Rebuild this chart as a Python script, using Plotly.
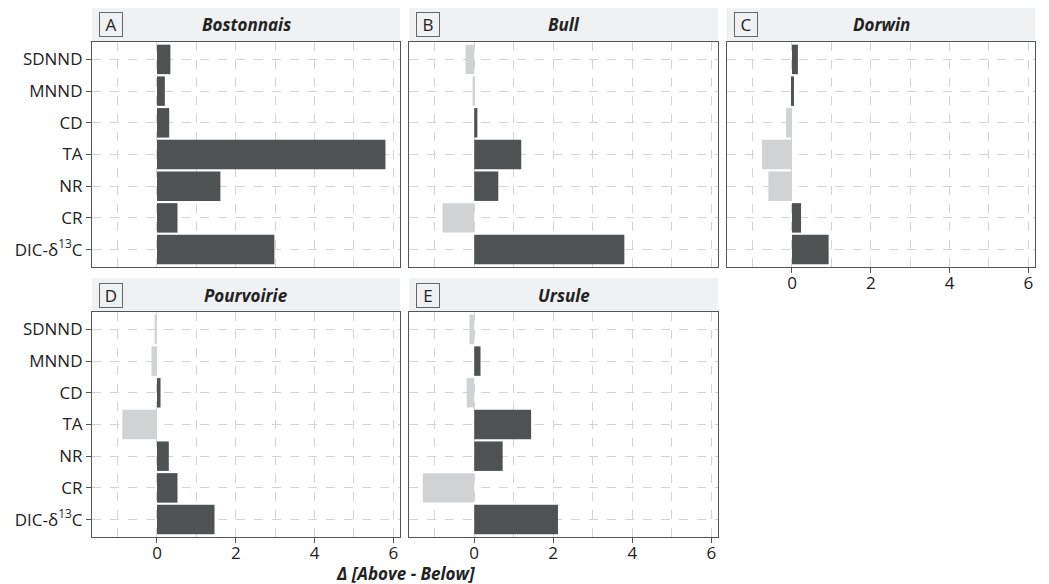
import plotly.graph_objects as go

categories = ["SDNND", "MNND", "CD", "TA", "NR", "CR", "DIC-δ<sup>13</sup>C"]
lakes = ["Bostonnais", "Bull", "Dorwin", "Pourvoirie", "Ursule"]
letters = ["A", "B", "C", "D", "E"]

bostonnais = [0.34, 0.20, 0.31, 5.80, 1.61, 0.52, 2.98]
bull = [-0.22, -0.04, 0.08, 1.19, 0.61, -0.80, 3.80]
dorwin = [0.15, 0.05, -0.15, -0.76, -0.60, 0.23, 0.93]
pourvoirie = [-0.06, -0.14, 0.09, -0.88, 0.30, 0.52, 1.46]
ursule = [-0.12, 0.16, -0.19, 1.44, 0.72, -1.30, 2.12]
series = [bostonnais, bull, dorwin, pourvoirie, ursule]

x_ticks = [0, 2, 4, 6]
x_title = "Δ [Above - Below]"

DARK = "#4e5253"
LIGHT = "#d1d2d4"
GRID = "#d4d4d4"
BORDER = "#555555"
STRIP = "#f0f1f3"
FONT = "Open Sans"
FS = 17

W, H = 1049, 584
ml, mr, mt, mb = 92, 14, 42, 47
pw = W - ml - mr
ph = H - mt - mb

cols_px = [(92, 400), (409, 718), (727, 1035)]
rows_px = [(42, 267), (312, 537)]

def xd(a, b):
    return [(a - ml) / pw, (b - ml) / pw]

def yd(top, bot):
    return [(H - mb - bot) / ph, (H - mb - top) / ph]

fig = go.Figure()
positions = [(0, 0), (0, 1), (0, 2), (1, 0), (1, 1)]
for i, (lake, vals) in enumerate(zip(lakes, series)):
    r, c = positions[i]
    ax = "" if i == 0 else str(i + 1)
    fig.add_trace(go.Bar(
        x=vals, y=categories, orientation="h",
        marker=dict(color=[DARK if v >= 0 else LIGHT for v in vals], line=dict(width=0)),
        width=0.93, xaxis="x" + ax, yaxis="y" + ax, showlegend=False,
    ))
    show_x = (r == 1) or (c == 2)
    show_y = (c == 0)
    fig.layout["xaxis" + ax] = dict(
        domain=xd(*cols_px[c]), anchor="y" + ax, range=[-1.65, 6.17],
        tickvals=x_ticks, showticklabels=show_x, ticks="outside" if show_x else "",
        ticklen=5, tickcolor=BORDER, ticklabelstandoff=-5,
        showgrid=True, gridcolor=GRID, griddash="dash", gridwidth=1,
        minor=dict(dtick=1, tick0=0, showgrid=True, gridcolor=GRID, griddash="dash", gridwidth=1),
        zeroline=False, showline=True, linecolor=BORDER, linewidth=1.2, mirror=True,
        tickfont=dict(family=FONT, size=FS, color="#222"),
    )
    fig.layout["yaxis" + ax] = dict(
        domain=yd(*rows_px[r]), anchor="x" + ax,
        categoryorder="array", categoryarray=categories[::-1],
        range=[-0.55, 6.55],
        showticklabels=show_y, ticks="outside" if show_y else "", ticklen=5, tickcolor=BORDER,
        showgrid=True, gridcolor=GRID, griddash="dash", gridwidth=1,
        zeroline=False, showline=True, linecolor=BORDER, linewidth=1.2, mirror=True,
        tickfont=dict(family=FONT, size=FS, color="#222"),
    )
    xr = "x" + ax + " domain"
    yr = "y" + ax + " domain"
    strip_h = 34 / 225
    fig.add_shape(type="rect", xref=xr, yref=yr, x0=0, x1=1, y0=1, y1=1 + strip_h,
                  fillcolor=STRIP, line=dict(width=0), layer="below")
    fig.add_annotation(xref=xr, yref=yr, x=0.5, y=1 + strip_h / 2, text="<b><i>%s</i></b>" % lake,
                       showarrow=False, font=dict(family=FONT, size=FS, color="#222"),
                       xanchor="center", yanchor="middle")
    fig.add_annotation(xref=xr, yref=yr, x=7 / 308, y=1 + strip_h / 2, text=letters[i],
                       showarrow=False, font=dict(family=FONT, size=FS, color="#222"),
                       xanchor="left", yanchor="middle", bordercolor="#666", borderwidth=1,
                       borderpad=0, width=22, height=23, align="center", valign="middle",
                       bgcolor="rgba(0,0,0,0)")

fig.add_annotation(xref="paper", yref="paper", x=(405 - ml) / pw, y=(H - mb - 573) / ph,
                   text="<b><i>%s</i></b>" % x_title, showarrow=False,
                   font=dict(family=FONT, size=17, color="#222"), xanchor="center", yanchor="middle")

fig.update_layout(width=W, height=H, margin=dict(l=ml, r=mr, t=mt, b=mb),
                  plot_bgcolor="white", paper_bgcolor="white", bargap=0.07)
fig.write_html("out.html", config={"displayModeBar": False},
               post_script="document.body.style.margin='0';document.body.style.overflow='hidden';")
